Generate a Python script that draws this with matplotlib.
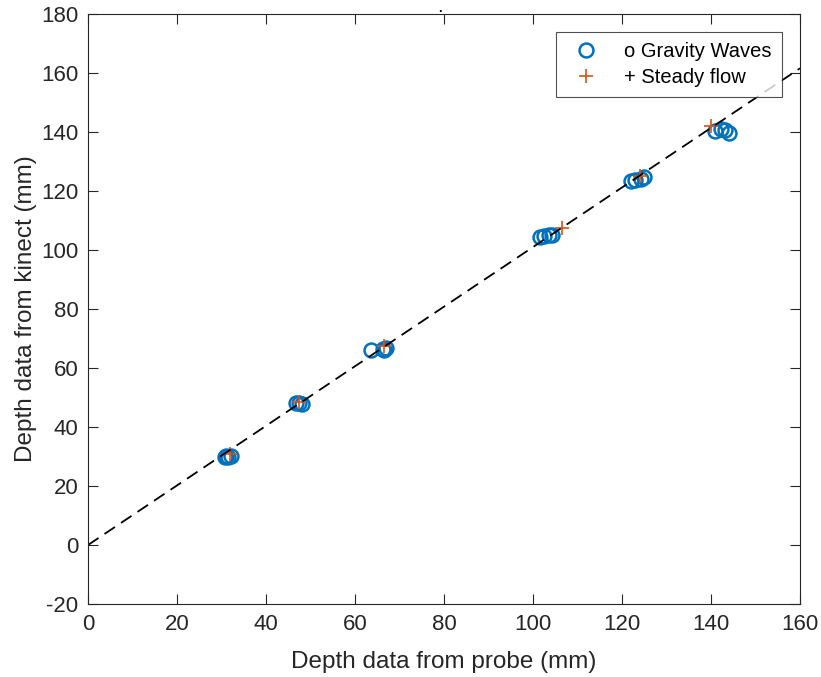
import numpy as np
import matplotlib.pyplot as plt

plt.rcParams['font.family'] = ['Liberation Sans', 'DejaVu Sans']
plt.rcParams['axes.unicode_minus'] = False

# gravity wave runs: probe depth vs kinect depth (mm)
gw_probe = [30.8, 31.5, 32.2, 31.0,
            46.8, 47.5, 48.0,
            63.5, 66.2, 67.0, 66.6,
            101.5, 102.5, 103.5, 104.3,
            122.0, 123.0, 124.2, 125.0,
            140.8, 142.3, 143.2, 144.0]
gw_kinect = [30.0, 29.8, 30.1, 30.3,
             48.0, 48.2, 47.8,
             66.2, 66.5, 66.8, 66.0,
             104.5, 104.8, 105.0, 105.2,
             123.3, 123.8, 124.2, 124.8,
             140.3, 141.0, 140.6, 139.5]

# steady flow runs
sf_probe = [31.8, 47.5, 66.5, 106.5, 124.0, 140.0]
sf_kinect = [30.8, 48.5, 67.3, 107.3, 125.2, 142.0]

# fitted line
fit_slope = 1.01
fit_x = [0, 160]

fig = plt.figure(figsize=(8.21, 6.77), dpi=100)
ax = fig.add_axes([0.1072, 0.1078, 0.8672, 0.8715])

ax.plot(gw_probe, gw_kinect, 'o', mfc='none', mec='#0072BD', mew=1.8, ms=10,
        label='o Gravity Waves')
ax.plot(sf_probe, sf_kinect, '+', color='#D95319', mew=1.2, ms=10,
        label='+ Steady flow')
ax.plot(fit_x, [fit_slope * v for v in fit_x], '--', color='black', lw=1.3,
        dashes=(7, 4))

ax.set_xlim(0, 160)
ax.set_ylim(-20, 180)
ax.set_xticks(np.arange(0, 161, 20))
ax.set_yticks(np.arange(-20, 181, 20))
ax.tick_params(direction='in', top=True, right=True, labelsize=16,
               length=7, width=0.8, colors='#262626', pad=7)
for s in ax.spines.values():
    s.set_color('#262626')
    s.set_linewidth(0.8)

ax.set_xlabel('Depth data from probe (mm)', fontsize=17.5, color='#262626',
              labelpad=12)
ax.set_ylabel('Depth data from kinect (mm)', fontsize=17.5, color='#262626',
              labelpad=3)
fig.text(0.536, 0.982, '.', fontsize=9, ha='center', va='baseline',
         fontweight='bold')

leg = ax.legend(loc='upper right', fontsize=14.5, frameon=True, fancybox=False,
                edgecolor='#262626', borderaxespad=0.9, handletextpad=0.9,
                handlelength=2.0, borderpad=0.5, labelspacing=0.35)
leg.get_frame().set_linewidth(0.8)

fig.savefig('out.png', dpi=100)
